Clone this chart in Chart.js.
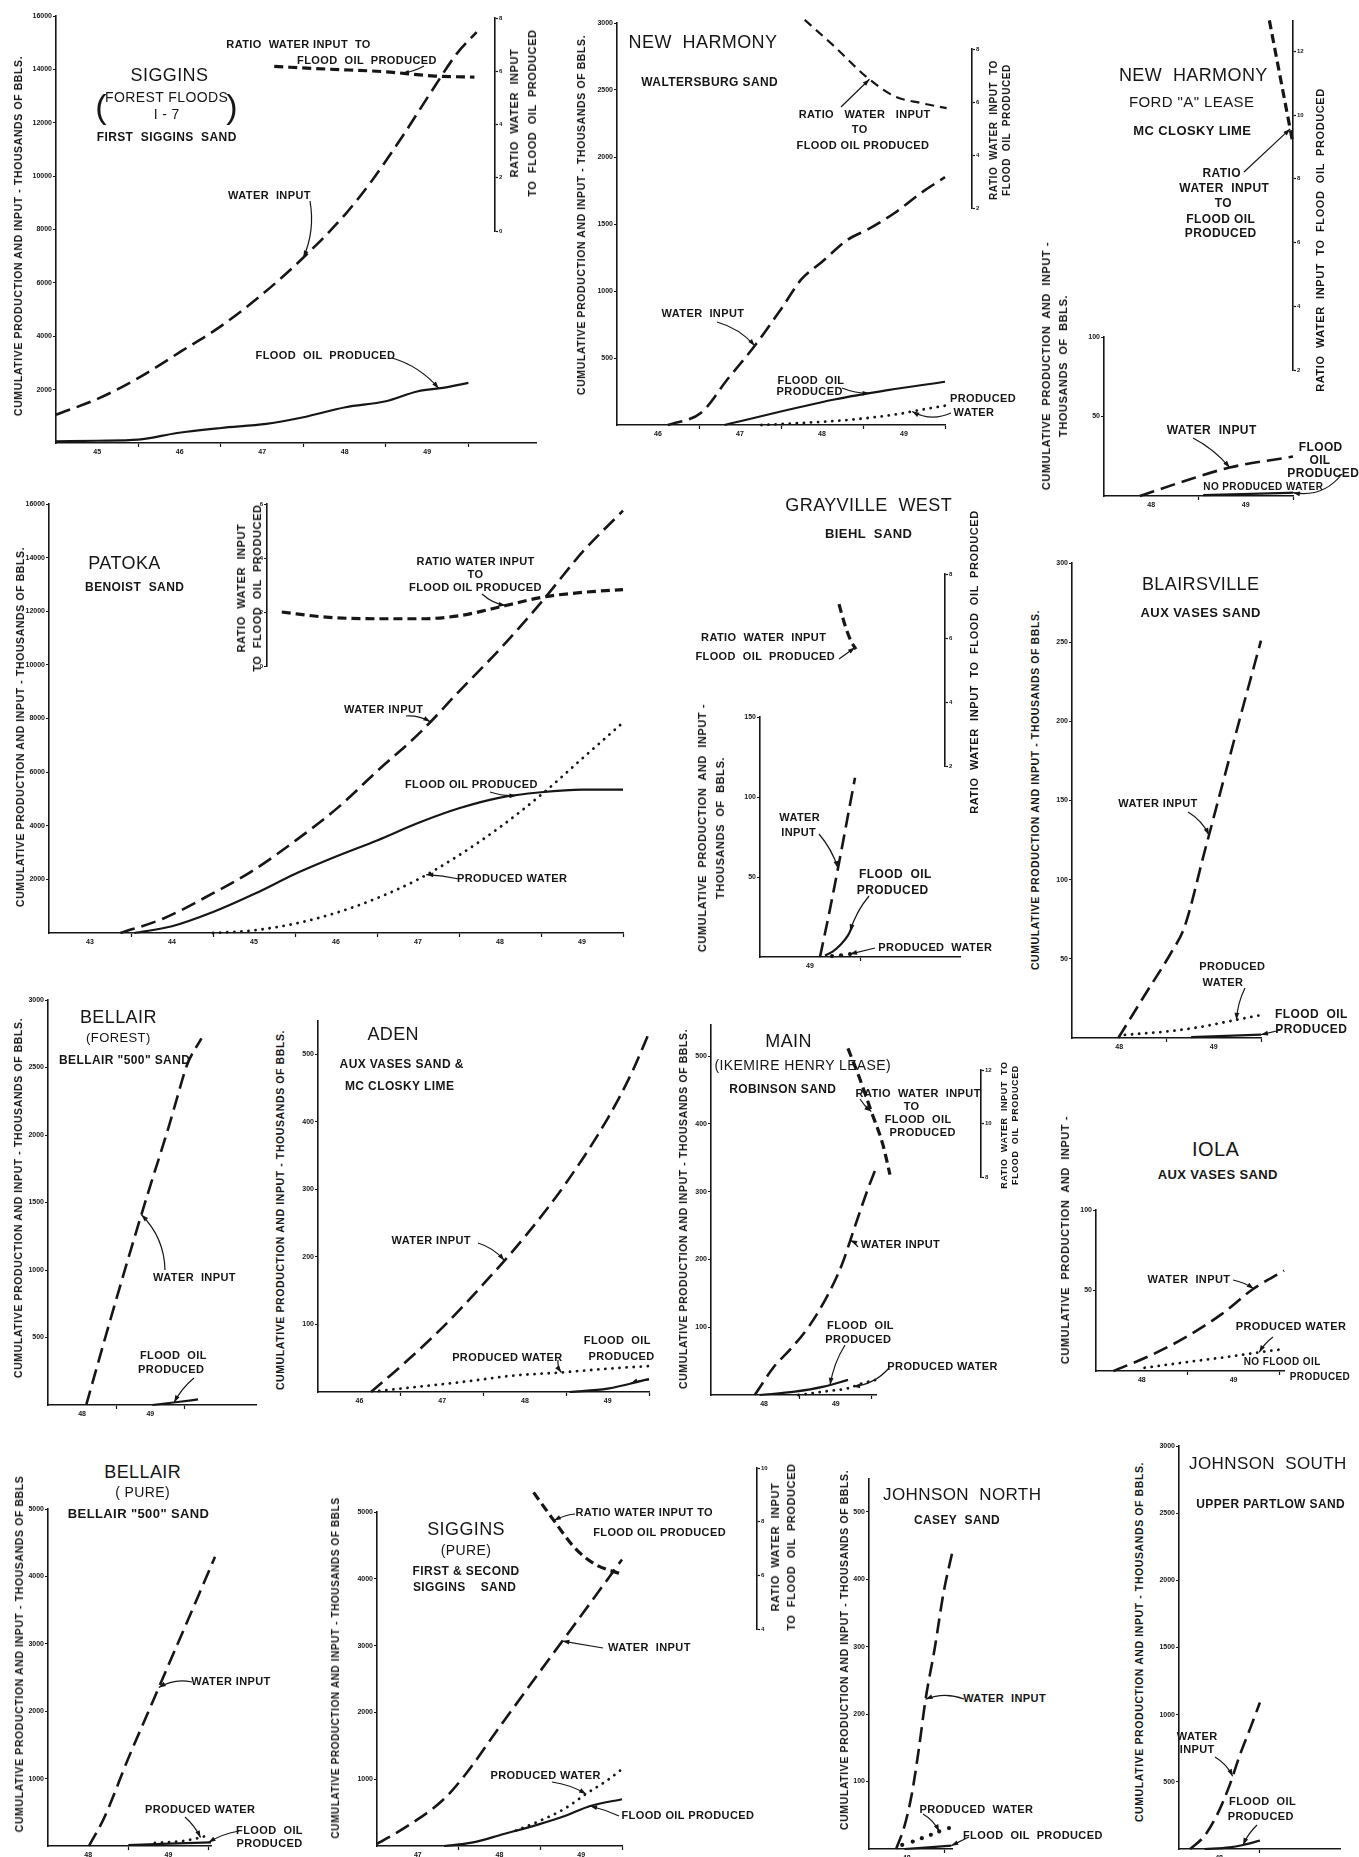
<!DOCTYPE html>
<html>
<head>
<meta charset="utf-8">
<title>Cumulative production and input - waterflood projects</title>
<script src="https://cdn.jsdelivr.net/npm/chart.js@4.4.1/dist/chart.umd.min.js"></script>
<style>
  html, body { margin: 0; background: #fff; overflow: hidden; }
  #page { position: relative; width: 1359px; height: 1857px; background: #fff;
          font-family: "Liberation Sans", Arial, sans-serif; color: #161616; }
  #page canvas { position: absolute; }
  .t { position: absolute; transform: translate(-50%, -50%); white-space: pre; text-align: center;
       line-height: 1.2; letter-spacing: 0.4px; }
  .v { position: absolute; transform: translate(-50%, -50%) rotate(-90deg); white-space: pre;
       text-align: center; font-weight: bold; letter-spacing: 0.6px; }
</style>
</head>
<body>
<div id="page"></div>
<script>
const FONT = '"Liberation Sans", Arial, sans-serif';
const INK = '#161616';
Chart.defaults.font.family = FONT;
Chart.defaults.color = INK;

// ---------- data: x = year (45 = start of 1945), y = thousands of bbls ----------

// Siggins (Forest Floods) 1-7
const sigYears = ['45', '46', '47', '48', '49'];
const sigTicks = [2000, 4000, 6000, 8000, 10000, 12000, 14000, 16000];
const sigRatioTicks = [0, 2, 4, 6, 8];
const sigWaterYr = [45.0, 45.53, 46.0, 46.52, 47.0, 47.5, 48.0, 48.51, 48.83, 49.22, 49.56, 49.86, 50.1];
const sigWater = [1060, 1690, 2440, 3440, 4380, 5570, 6950, 8580, 9830, 11580, 13210, 14590, 15400];
const sigOilYr = [45.0, 45.5, 46.0, 46.47, 47.0, 47.55, 48.0, 48.51, 49.0, 49.39, 49.69, 50.0];
const sigOil = [60, 85, 125, 376, 563, 714, 964, 1340, 1565, 1941, 2066, 2254];
const sigRatioYr = [47.65, 48.3, 49.0, 49.6, 50.08];
const sigRatio = [6.18, 6.08, 5.98, 5.82, 5.78];

// New Harmony - Waltersburg sand
const nhYears = ['46', '47', '48', '49'];
const nhTicks = [500, 1000, 1500, 2000, 2500, 3000];
const nhRatioTicks = [2, 4, 6, 8];
const nhWaterYr = [46.62, 47.03, 47.35, 47.68, 48.0, 48.25, 48.49, 48.82, 49.06, 49.39, 49.71, 50.0];
const nhWater = [0, 94, 343, 591, 864, 1088, 1212, 1385, 1460, 1584, 1733, 1850];
const nhOilYr = [47.31, 48.65, 49.3, 50.0];
const nhOil = [0, 190, 260, 323];
const nhProdYr = [47.76, 48.25, 48.86, 49.43, 49.71, 50.0];
const nhProd = [0, 15, 40, 82, 114, 144];
const nhRatioYr = [48.29, 48.65, 49.06, 49.39, 49.71, 50.02];
const nhRatio = [9.1, 8.1, 6.9, 6.21, 5.96, 5.77];

// New Harmony - Ford "A" lease
const nhfYears = ['48', '49'];
const nhfTicks = [50, 100];
const nhfRatioTicks = [2, 4, 6, 8, 10, 12];
const nhfWaterYr = [48.38, 48.8, 49.33, 50.0];
const nhfWater = [0, 8.4, 17.9, 24.8];
const nhfOilYr = [49.05, 50.0];
const nhfOil = [0.6, 2.1];
const nhfRatioYr = [49.75, 49.89, 50.0];
const nhfRatio = [12.97, 10.8, 9.1];

// Patoka - Benoist sand
const patYears = ['43', '44', '45', '46', '47', '48', '49'];
const patTicks = [2000, 4000, 6000, 8000, 10000, 12000, 14000, 16000];
const patRatioTicks = [0, 2, 4, 6];
const patWaterYr = [43.87, 44.39, 44.99, 45.49, 46.01, 46.53, 47.01, 47.53, 48.01, 48.52, 49.02, 49.52, 50.0];
const patWater = [0, 534, 1466, 2335, 3453, 4695, 6061, 7490, 9043, 10657, 12396, 14259, 15750];
const patOilYr = [44.04, 44.5, 45.0, 45.5, 46.0, 46.5, 47.0, 47.5, 48.0, 48.5, 49.0, 49.5, 50.0];
const patOil = [0, 250, 780, 1450, 2200, 2850, 3450, 4100, 4650, 5050, 5250, 5350, 5350];
const patProdYr = [45.0, 45.5, 46.0, 46.5, 47.0, 47.5, 48.0, 48.5, 49.0, 49.5, 50.0];
const patProd = [0, 100, 350, 750, 1300, 2000, 2900, 3950, 5150, 6500, 7850];
const patRatioYr = [45.84, 46.38, 47.03, 47.53, 48.02, 48.57, 49.02, 49.52, 50.0];
const patRatio = [2.0, 1.81, 1.75, 1.75, 1.87, 2.24, 2.55, 2.73, 2.83];

// Grayville West - Biehl sand
const gwYears = ['49'];
const gwTicks = [50, 100, 150];
const gwRatioTicks = [2, 4, 6, 8];
const gwWaterYr = [49.6, 49.7, 49.8, 49.95];
const gwWater = [0, 30, 62, 112];
const gwOilYr = [49.65, 49.73, 49.8, 49.88, 49.93];
const gwOil = [1, 3.5, 7.3, 13.5, 20];
const gwProdYr = [49.72, 49.81, 49.9];
const gwProd = [0.6, 1.1, 1.8];
const gwRatioYr = [49.79, 49.85, 49.91, 49.96];
const gwRatio = [7.06, 6.4, 5.9, 5.65];

// Blairsville - Aux Vases sand
const blYears = ['48', '49'];
const blTicks = [50, 100, 150, 200, 250, 300];
const blWaterYr = [48.49, 48.8, 49.05, 49.19, 49.4, 49.6, 49.8, 50.0];
const blWater = [0, 30, 54, 70, 117, 162, 207, 251];
const blProdYr = [48.56, 49.01, 49.33, 49.61, 49.75, 50.0];
const blProd = [2, 4.2, 6.7, 9.9, 11.6, 14.5];
const blOilYr = [49.26, 50.0];
const blOil = [0.6, 2.1];

// Bellair (Forest) - Bellair "500" sand
const bfYears = ['48', '49'];
const bfTicks = [500, 1000, 1500, 2000, 2500, 3000];
const bfWaterYr = [48.56, 48.84, 49.15, 49.46, 49.77, 49.89, 50.04, 50.25];
const bfWater = [0, 500, 1040, 1560, 2060, 2270, 2520, 2716];
const bfOilYr = [49.53, 49.9, 50.2];
const bfOil = [0, 22, 41];

// Aden - Aux Vases sand & McClosky lime
const adYears = ['46', '47', '48', '49'];
const adTicks = [100, 200, 300, 400, 500];
const adWaterYr = [46.64, 47.0, 47.5, 48.0, 48.5, 49.0, 49.5, 49.8, 50.0];
const adWater = [0, 38, 95, 160, 230, 310, 405, 475, 532];
const adProdYr = [46.74, 47.3, 47.82, 48.33, 48.94, 49.45, 50.0];
const adProd = [1.5, 9, 16, 24, 29, 34, 38.5];
const adOilYr = [49.04, 49.5, 50.0];
const adOil = [0, 5, 19];

// Main (Ikemire Henry lease) - Robinson sand
const mnYears = ['48', '49'];
const mnTicks = [100, 200, 300, 400, 500];
const mnRatioTicks = [8, 10, 12];
const mnWaterYr = [48.37, 48.64, 48.88, 49.13, 49.38, 49.58, 49.77, 49.95, 50.06];
const mnWater = [0, 42, 69, 102, 146, 191, 250, 305, 335];
const mnOilYr = [48.44, 48.93, 49.33, 49.67];
const mnOil = [0, 5, 12.4, 22.3];
const mnProdYr = [48.98, 49.33, 49.67, 49.87, 50.06];
const mnProd = [0, 5, 10, 17.3, 22.3];
const mnRatioYr = [49.52, 49.67, 49.82, 49.97, 50.06];
const mnRatio = [12.81, 11.69, 10.45, 9.2, 8.09];

// Iola - Aux Vases sand
const ioYears = ['48', '49'];
const ioTicks = [50, 100];
const ioWaterYr = [48.19, 48.58, 48.97, 49.37, 49.71, 50.05];
const ioWater = [0, 9.3, 20.7, 35.3, 50.8, 62.3];
const ioProdYr = [48.53, 49.0, 49.5, 49.75, 50.03];
const ioProd = [2, 5.6, 9.3, 11.4, 13.5];

// Bellair (Pure) - Bellair "500" sand
const bpYears = ['48', '49'];
const bpTicks = [1000, 2000, 3000, 4000, 5000];
const bpWaterYr = [48.51, 48.7, 49.0, 49.3, 49.6, 49.85, 50.08];
const bpWater = [0, 420, 1300, 2130, 2960, 3650, 4290];
const bpProdYr = [49.33, 49.53, 49.66, 49.78, 49.9, 50.02];
const bpProd = [45, 60, 70, 95, 125, 174];
const bpOilYr = [49.0, 50.03];
const bpOil = [15, 55];

// Siggins (Pure) - First & Second Siggins sand
const spYears = ['47', '48', '49'];
const spTicks = [1000, 2000, 3000, 4000, 5000];
const spRatioTicks = [4, 6, 8, 10];
const spWaterYr = [47.0, 47.4, 47.8, 48.05, 48.5, 49.0, 49.5, 50.0];
const spWater = [30, 320, 680, 1020, 1780, 2620, 3450, 4290];
const spOilYr = [47.82, 48.16, 48.54, 48.98, 49.3, 49.61, 50.0];
const spOil = [0, 50, 175, 324, 449, 599, 700];
const spProdYr = [48.7, 49.0, 49.3, 49.56, 49.81, 50.0];
const spProd = [230, 380, 560, 780, 975, 1150];
const spRatioYr = [48.92, 49.17, 49.42, 49.67, 49.99];
const spRatio = [9.09, 8.04, 7.04, 6.42, 6.05];

// Johnson North - Casey sand
const jnYears = ['48'];
const jnTicks = [100, 200, 300, 400, 500];
const jnWaterYr = [48.36, 48.47, 48.57, 48.66, 48.75, 48.87, 48.99, 49.11];
const jnWater = [0, 34, 83, 148, 222, 297, 381, 443];
const jnProdYr = [48.44, 48.58, 48.7, 48.82, 48.93, 49.06];
const jnProd = [6, 11, 16, 21, 26, 31];
const jnOilYr = [48.47, 49.09];
const jnOil = [0, 5];

// Johnson South - Upper Partlow sand
const jsYears = ['48'];
const jsTicks = [500, 1000, 1500, 2000, 2500, 3000];
const jsWaterYr = [48.14, 48.32, 48.47, 48.63, 48.76, 48.89, 49.01];
const jsWater = [0, 99, 248, 472, 700, 900, 1090];
const jsOilYr = [48.32, 48.63, 48.8, 49.01];
const jsOil = [0, 12, 30, 62];

// ---------- helpers ----------
const page = document.getElementById('page');
const YW = 28, XH = 16, PT = 10, PR = 10;   // main axis boxes / padding
const RW = 16, PAD = 40;                    // ratio axis box / free margin
const TICKF = { family: FONT, size: 7, weight: 'bold' };

const STY = {
  water: { borderDash: [15, 7], borderWidth: 2.6 },
  ratio: { borderDash: [9, 5], borderWidth: 3.2 },
  ratioThin: { borderDash: [9, 6], borderWidth: 2.2 },
  oil: { borderWidth: 2.2 },
  prod: { borderDash: [0.1, 7], borderWidth: 2.8, borderCapStyle: 'round' },
  dots: { showLine: false, pointRadius: 2.1 }
};

function ds(kind, xs, ys) {
  return Object.assign({
    data: xs.map((x, i) => ({ x: x, y: ys[i] })),
    borderColor: INK, backgroundColor: INK, pointRadius: 0, pointBorderWidth: 0,
    fill: false, cubicInterpolationMode: 'monotone', clip: false
  }, STY[kind]);
}

function addCanvas(l, t, w, h) {
  const c = document.createElement('canvas');
  c.width = w; c.height = h;
  c.style.left = l + 'px'; c.style.top = t + 'px';
  c.style.width = w + 'px'; c.style.height = h + 'px';
  page.appendChild(c);
  return c;
}

function panel(box, xr, years, yr, yTicks, series) {
  const [l, t, r, b] = box;
  const cv = addCanvas(Math.round(l - YW), Math.round(t - PT),
                       Math.round(r - l + YW + PR), Math.round(b - t + PT + XH));
  const labelAt = new Map(years.map(y => [Number(y) + 0.5, y]));
  const marks = years.map(y => Number(y) + 1).filter(v => v <= xr[1] + 1e-6);
  const xt = [...labelAt.keys(), ...marks].sort((a, c) => a - c);
  return new Chart(cv, {
    type: 'line',
    data: { datasets: series },
    options: {
      responsive: false, maintainAspectRatio: false, animation: false, events: [],
      layout: { padding: { top: PT, right: PR, left: 0, bottom: 0 } },
      plugins: { legend: { display: false }, tooltip: { enabled: false } },
      scales: {
        x: {
          type: 'linear', min: xr[0], max: xr[1],
          afterBuildTicks: s => { s.ticks = xt.map(v => ({ value: v })); },
          afterFit: s => { s.height = XH; },
          ticks: { autoSkip: false, maxRotation: 0, padding: 1, font: TICKF, color: INK,
                   callback: v => labelAt.get(v) || '' },
          grid: { drawOnChartArea: false, tickLength: 4, tickWidth: 1.2,
                  tickColor: c => labelAt.has(c.tick.value) ? 'rgba(0,0,0,0)' : INK },
          border: { color: INK, width: 1.6 }
        },
        y: {
          min: yr[0], max: yr[1],
          afterBuildTicks: s => { s.ticks = yTicks.map(v => ({ value: v })); },
          afterFit: s => { s.width = YW; },
          ticks: { padding: 1, font: TICKF, color: INK, callback: v => String(v) },
          grid: { drawOnChartArea: false, tickLength: 3, tickWidth: 1.2, tickColor: INK },
          border: { color: INK, width: 1.6 }
        }
      }
    }
  });
}

function ratioPanel(box, xr, yr, yTicks, side, series) {
  const [l, t, r, b] = box;
  const left = side === 'left';
  const cv = addCanvas(Math.round(l - (left ? RW : PAD)), Math.round(t - PAD),
                       Math.round(r - l + RW + PAD), Math.round(b - t + 2 * PAD));
  return new Chart(cv, {
    type: 'line',
    data: { datasets: series },
    options: {
      responsive: false, maintainAspectRatio: false, animation: false, events: [],
      layout: { padding: { left: left ? 0 : PAD, right: left ? PAD : 0, top: PAD, bottom: PAD } },
      plugins: { legend: { display: false }, tooltip: { enabled: false } },
      scales: {
        x: { type: 'linear', display: false, min: xr[0], max: xr[1] },
        y: {
          position: side, min: yr[0], max: yr[1],
          afterBuildTicks: s => { s.ticks = yTicks.map(v => ({ value: v })); },
          afterFit: s => { s.width = RW; },
          ticks: { padding: 1, font: { family: FONT, size: 6, weight: 'bold' }, color: INK },
          grid: { drawOnChartArea: false, tickLength: 3, tickWidth: 1.2, tickColor: INK },
          border: { color: INK, width: 1.6 }
        }
      }
    }
  });
}

function note(text, x, y, size, weight) {
  const d = document.createElement('div');
  d.className = 't';
  d.textContent = text;
  d.style.left = x + 'px'; d.style.top = y + 'px';
  d.style.fontSize = (size || 11) + 'px';
  d.style.fontWeight = weight || 'bold';
  page.appendChild(d);
}

function vnote(text, x, y, size, lh) {
  const d = document.createElement('div');
  d.className = 'v';
  d.textContent = text;
  d.style.left = x + 'px'; d.style.top = y + 'px';
  d.style.fontSize = (size || 10.5) + 'px';
  d.style.lineHeight = (lh || 14) + 'px';
  page.appendChild(d);
}

const leaders = [];
function lead(chart, xs, ys, at, fx, fy, bend) {
  leaders.push({ chart, xs, ys, at, fx, fy, bend: bend || 0 });
}
function interp(xs, ys, x) {
  if (x <= xs[0]) return ys[0];
  for (let i = 1; i < xs.length; i++) {
    if (x <= xs[i]) {
      const f = (x - xs[i - 1]) / (xs[i] - xs[i - 1]);
      return ys[i - 1] + f * (ys[i] - ys[i - 1]);
    }
  }
  return ys[ys.length - 1];
}
function drawLeaders() {
  const cv = addCanvas(0, 0, 1359, 1857);
  const g = cv.getContext('2d');
  g.strokeStyle = INK; g.fillStyle = INK; g.lineWidth = 1.2;
  leaders.forEach(a => {
    const c = a.chart;
    const px = c.canvas.offsetLeft + c.scales.x.getPixelForValue(a.at);
    const py = c.canvas.offsetTop + c.scales.y.getPixelForValue(interp(a.xs, a.ys, a.at));
    const dx = px - a.fx, dy = py - a.fy;
    const cx = (a.fx + px) / 2 - dy * a.bend, cy = (a.fy + py) / 2 + dx * a.bend;
    g.beginPath(); g.moveTo(a.fx, a.fy); g.quadraticCurveTo(cx, cy, px, py); g.stroke();
    const ang = Math.atan2(py - cy, px - cx), L = 7, W = 2.4;
    g.beginPath(); g.moveTo(px, py);
    g.lineTo(px - L * Math.cos(ang) + W * Math.sin(ang), py - L * Math.sin(ang) - W * Math.cos(ang));
    g.lineTo(px - L * Math.cos(ang) - W * Math.sin(ang), py - L * Math.sin(ang) + W * Math.cos(ang));
    g.closePath(); g.fill();
  });
}

const YT = 'CUMULATIVE PRODUCTION AND INPUT - THOUSANDS OF BBLS.';

// ---------- Siggins (Forest Floods) ----------
const sig = panel([55.7, 15.7, 535.5, 443], [45, 50.82], sigYears, [0, 16000], sigTicks,
  [ds('water', sigWaterYr, sigWater), ds('oil', sigOilYr, sigOil)]);
const sigR = ratioPanel([55.7, 18.3, 494.7, 231], [45, 50.33], [0, 8], sigRatioTicks, 'right',
  [ds('ratio', sigRatioYr, sigRatio)]);
note('SIGGINS', 169.5, 76, 18, 'normal');
note('FOREST FLOODS', 166.7, 97.3, 14, 'normal');
note('I - 7', 166.7, 114, 14, 'normal');
note('(', 101, 106, 34, 'normal');
note(')', 232, 106, 34, 'normal');
note('FIRST  SIGGINS  SAND', 166.7, 137, 12);
note('RATIO  WATER INPUT  TO', 298.6, 45, 11);
note('FLOOD  OIL  PRODUCED', 367, 61, 11);
note('WATER  INPUT', 269.5, 196, 11);
note('FLOOD  OIL  PRODUCED', 325.5, 356, 11);
vnote(YT, 17.7, 236);
vnote('RATIO  WATER  INPUT\nTO  FLOOD  OIL  PRODUCED', 523, 113, 11, 18);
lead(sig, sigWaterYr, sigWater, 48.0, 310, 201, -0.15);
lead(sig, sigOilYr, sigOil, 49.64, 392, 358, -0.15);
lead(sigR, sigRatioYr, sigRatio, 49.2, 424, 66, -0.1);

// ---------- New Harmony (Waltersburg) ----------
const nh = panel([617, 23.3, 945, 425.3], [46, 50], nhYears, [0, 3000], nhTicks,
  [ds('water', nhWaterYr, nhWater), ds('oil', nhOilYr, nhOil), ds('prod', nhProdYr, nhProd)]);
const nhR = ratioPanel([617, 49.3, 972.3, 208.3], [46, 50.33], [2, 8], nhRatioTicks, 'right',
  [ds('ratioThin', nhRatioYr, nhRatio)]);
note('NEW  HARMONY', 703, 43.3, 18, 'normal');
note('WALTERSBURG SAND', 709.7, 82.3, 12);
note('RATIO   WATER   INPUT', 864.7, 115, 11);
note('TO', 859.7, 130, 11);
note('FLOOD OIL PRODUCED', 863, 145.7, 11);
note('WATER  INPUT', 703, 314.3, 11);
note('FLOOD  OIL', 811, 380.7, 11);
note('PRODUCED', 809.7, 392.3, 11);
note('PRODUCED', 983, 399, 11);
note('WATER', 974, 413.3, 11);
vnote(YT, 581.3, 215);
vnote('RATIO  WATER  INPUT  TO\nFLOOD  OIL  PRODUCED', 1000, 130, 10, 13);
lead(nhR, nhRatioYr, nhRatio, 49.08, 841, 107, 0);
lead(nh, nhWaterYr, nhWater, 47.68, 717, 322, -0.15);
lead(nh, nhOilYr, nhOil, 49.08, 842, 388, 0.1);
lead(nh, nhProdYr, nhProd, 49.6, 951, 413, -0.25);

// ---------- New Harmony (Ford "A" lease) ----------
const nhf = panel([1104, 337.3, 1293.3, 496], [48, 50], nhfYears, [0, 100], nhfTicks,
  [ds('water', nhfWaterYr, nhfWater), ds('oil', nhfOilYr, nhfOil)]);
const nhfR = ratioPanel([1104, 20.7, 1293.3, 370], [48, 50], [2, 12.95], nhfRatioTicks, 'right',
  [ds('ratio', nhfRatioYr, nhfRatio)]);
note('NEW  HARMONY', 1193.3, 76, 18, 'normal');
note('FORD "A" LEASE', 1191.7, 101.7, 15, 'normal');
note('MC CLOSKY LIME', 1192.3, 130.7, 13);
note('RATIO', 1221.7, 172.7, 12);
note('WATER  INPUT', 1224.3, 188.3, 12);
note('TO', 1223.3, 203.3, 12);
note('FLOOD OIL', 1220.7, 219, 12);
note('PRODUCED', 1220.7, 232.7, 12);
note('WATER  INPUT', 1211.7, 430, 12);
note('FLOOD', 1320.7, 446.7, 12);
note('OIL', 1320, 460, 12);
note('PRODUCED', 1323.3, 473.3, 12);
note('NO PRODUCED WATER', 1263.3, 487.3, 10);
vnote('CUMULATIVE  PRODUCTION  AND  INPUT -\nTHOUSANDS  OF  BBLS.', 1055, 366, 11, 17);
vnote('RATIO  WATER  INPUT  TO  FLOOD  OIL  PRODUCED', 1320, 240, 11);
lead(nhfR, nhfRatioYr, nhfRatio, 49.97, 1244, 172, 0);
lead(nhf, nhfWaterYr, nhfWater, 49.33, 1193, 438, -0.1);
lead(nhf, nhfOilYr, nhfOil, 50.0, 1342, 474, -0.3);

// ---------- Patoka ----------
const pat = panel([49, 504.3, 623.3, 933.7], [43, 50], patYears, [0, 16000], patTicks,
  [ds('water', patWaterYr, patWater), ds('oil', patOilYr, patOil), ds('prod', patProdYr, patProd)]);
const patR = ratioPanel([267.3, 504.3, 623.3, 666.7], [45.66, 50], [0, 6], patRatioTicks, 'left',
  [ds('ratio', patRatioYr, patRatio)]);
note('PATOKA', 124.5, 564.3, 18, 'normal');
note('BENOIST  SAND', 134.7, 586.7, 12);
note('RATIO WATER INPUT', 475.5, 562, 11);
note('TO', 475.5, 575, 11);
note('FLOOD OIL PRODUCED', 475.5, 588.3, 11);
note('WATER INPUT', 383.7, 710, 11);
note('FLOOD OIL PRODUCED', 471.4, 785, 11);
note('PRODUCED WATER', 512.2, 879.3, 11);
vnote(YT, 20.4, 727);
vnote('RATIO  WATER  INPUT\nTO  FLOOD  OIL  PRODUCED', 249, 588, 11, 16);
lead(patR, patRatioYr, patRatio, 48.57, 482, 594, 0.15);
lead(pat, patWaterYr, patWater, 47.65, 406, 716, -0.15);
lead(pat, patOilYr, patOil, 48.7, 490, 792, 0.1);
lead(pat, patProdYr, patProd, 47.6, 459, 879, 0.05);

// ---------- Grayville West ----------
const gw = panel([760.3, 717, 960.3, 956.5], [49, 51], gwYears, [0, 150], gwTicks,
  [ds('water', gwWaterYr, gwWater), ds('oil', gwOilYr, gwOil), ds('dots', gwProdYr, gwProd)]);
const gwR = ratioPanel([760.3, 574.3, 945.3, 766], [49, 50.85], [2, 8], gwRatioTicks, 'right',
  [ds('ratio', gwRatioYr, gwRatio)]);
note('GRAYVILLE  WEST', 868.7, 506, 18, 'normal');
note('BIEHL  SAND', 868.7, 533.7, 13);
note('RATIO  WATER  INPUT', 763.7, 637.7, 11);
note('FLOOD  OIL  PRODUCED', 765.3, 656.7, 11);
note('WATER', 799.7, 817.7, 11);
note('INPUT', 798.7, 832.7, 11);
note('FLOOD  OIL', 895.3, 874.3, 12);
note('PRODUCED', 892.7, 890.3, 12);
note('PRODUCED  WATER', 935.3, 947.7, 11);
vnote('CUMULATIVE  PRODUCTION  AND  INPUT -\nTHOUSANDS  OF  BBLS.', 711, 828, 11, 18);
vnote('RATIO  WATER  INPUT  TO  FLOOD  OIL  PRODUCED', 973.7, 661.7, 11);
lead(gwR, gwRatioYr, gwRatio, 49.95, 839, 659, 0);
lead(gw, gwWaterYr, gwWater, 49.78, 819, 834, -0.1);
lead(gw, gwOilYr, gwOil, 49.9, 869, 896, 0.1);
lead(gw, gwProdYr, gwProd, 49.9, 875, 948, 0);

// ---------- Blairsville ----------
const bl = panel([1072, 563.3, 1261.3, 1038.5], [48, 50], blYears, [0, 300], blTicks,
  [ds('water', blWaterYr, blWater), ds('prod', blProdYr, blProd), ds('oil', blOilYr, blOil)]);
note('BLAIRSVILLE', 1200.7, 585, 18, 'normal');
note('AUX VASES SAND', 1200.7, 613.3, 13);
note('WATER INPUT', 1158, 804.3, 11);
note('PRODUCED', 1232.3, 966.7, 11);
note('WATER', 1223, 982.7, 11);
note('FLOOD  OIL', 1311.3, 1014, 12);
note('PRODUCED', 1311.3, 1029, 12);
vnote(YT, 1034.7, 790);
lead(bl, blWaterYr, blWater, 49.45, 1188, 812, -0.15);
lead(bl, blProdYr, blProd, 49.74, 1245, 988, 0.1);
lead(bl, blOilYr, blOil, 50.0, 1281, 1030, 0);

// ---------- Bellair (Forest) ----------
const bf = panel([48.3, 999.7, 256.7, 1404.8], [48, 51.05], bfYears, [0, 3000], bfTicks,
  [ds('water', bfWaterYr, bfWater), ds('oil', bfOilYr, bfOil)]);
note('BELLAIR', 118.4, 1018, 18, 'normal');
note('(FOREST)', 118.4, 1038, 13, 'normal');
note('BELLAIR "500" SAND', 124.7, 1059.7, 12);
note('WATER  INPUT', 194.5, 1278, 11);
note('FLOOD  OIL', 173.4, 1356.3, 11);
note('PRODUCED', 171.2, 1369.7, 11);
vnote(YT, 18, 1198);
lead(bf, bfWaterYr, bfWater, 49.37, 165, 1270, 0.2);
lead(bf, bfOilYr, bfOil, 49.85, 194, 1378, 0.1);

// ---------- Aden ----------
const ad = panel([318, 1021.3, 648.7, 1392.2], [46, 50], adYears, [0, 549.5], adTicks,
  [ds('water', adWaterYr, adWater), ds('prod', adProdYr, adProd), ds('oil', adOilYr, adOil)]);
note('ADEN', 393.2, 1034.7, 18, 'normal');
note('AUX VASES SAND &', 401.7, 1064, 12);
note('MC CLOSKY LIME', 399.6, 1086.3, 12);
note('WATER INPUT', 431.3, 1241.3, 11);
note('PRODUCED WATER', 507.4, 1358, 11);
note('FLOOD  OIL', 617.3, 1341.3, 11);
note('PRODUCED', 621.6, 1357.3, 11);
vnote(YT, 280, 1209.7);
lead(ad, adWaterYr, adWater, 48.25, 478, 1243, -0.15);
lead(ad, adProdYr, adProd, 48.94, 558, 1360, 0.2);
lead(ad, adOilYr, adOil, 49.78, 649, 1380, 0.1);

// ---------- Main (Ikemire Henry lease) ----------
const mn = panel([710.5, 1025.3, 875.2, 1395], [47.76, 50.06], mnYears, [0, 546], mnTicks,
  [ds('water', mnWaterYr, mnWater), ds('oil', mnOilYr, mnOil), ds('prod', mnProdYr, mnProd)]);
const mnR = ratioPanel([710.5, 1070.3, 980.4, 1177.7], [47.76, 51.23], [8, 12], mnRatioTicks, 'right',
  [ds('ratio', mnRatioYr, mnRatio)]);
note('MAIN', 788.6, 1042, 18, 'normal');
note('(IKEMIRE HENRY LEASE)', 802.8, 1065.3, 14, 'normal');
note('ROBINSON SAND', 782.8, 1088.7, 12);
note('RATIO  WATER  INPUT', 918.2, 1093.7, 11);
note('TO', 911.6, 1107, 11);
note('FLOOD  OIL', 918.2, 1120.3, 11);
note('PRODUCED', 922.7, 1132.7, 11);
note('WATER INPUT', 900.5, 1245.3, 11);
note('FLOOD  OIL', 860.5, 1326, 11);
note('PRODUCED', 858.3, 1340.3, 11);
note('PRODUCED WATER', 942.6, 1367, 11);
vnote(YT, 683, 1209.3);
vnote('RATIO  WATER  INPUT  TO\nFLOOD  OIL  PRODUCED', 1010, 1125, 9, 11);
lead(mnR, mnRatioYr, mnRatio, 49.82, 860, 1099, 0.1);
lead(mn, mnWaterYr, mnWater, 49.7, 858, 1247, 0.15);
lead(mn, mnOilYr, mnOil, 49.42, 845, 1345, 0.1);
lead(mn, mnProdYr, mnProd, 49.74, 889, 1368, -0.2);

// ---------- Iola ----------
const io = panel([1095.8, 1209.7, 1283.5, 1370.9], [48, 50.05], ioYears, [0, 100], ioTicks,
  [ds('water', ioWaterYr, ioWater), ds('prod', ioProdYr, ioProd)]);
note('IOLA', 1215.6, 1148.7, 20, 'normal');
note('AUX VASES SAND', 1217.8, 1175.3, 13);
note('WATER  INPUT', 1189, 1280.3, 11);
note('PRODUCED WATER', 1291, 1327, 11);
note('NO FLOOD OIL', 1282.2, 1362, 10);
note('PRODUCED', 1320, 1377, 10);
vnote('CUMULATIVE  PRODUCTION  AND  INPUT -', 1064.7, 1240, 11);
lead(io, ioWaterYr, ioWater, 49.72, 1233, 1280, -0.1);
lead(io, ioProdYr, ioProd, 49.78, 1273, 1337, 0.1);

// ---------- Bellair (Pure) ----------
const bp = panel([48.3, 1509, 211.7, 1845.7], [48, 50.03], bpYears, [0, 5000], bpTicks,
  [ds('water', bpWaterYr, bpWater), ds('prod', bpProdYr, bpProd), ds('oil', bpOilYr, bpOil)]);
note('BELLAIR', 142.7, 1473.3, 18, 'normal');
note('( PURE)', 142.7, 1491.7, 14, 'normal');
note('BELLAIR "500" SAND', 138.6, 1514, 13);
note('WATER INPUT', 231, 1682.3, 11);
note('PRODUCED WATER', 200.2, 1810, 11);
note('FLOOD  OIL', 269.5, 1830.7, 11);
note('PRODUCED', 269.5, 1844, 11);
vnote('CUMULATIVE PRODUCTION AND INPUT - THOUSANDS OF BBLS', 18.5, 1654, 10.5);
lead(bp, bpWaterYr, bpWater, 49.38, 192, 1682, 0.2);
lead(bp, bpProdYr, bpProd, 49.9, 185, 1817, -0.1);
lead(bp, bpOilYr, bpOil, 50.0, 239, 1831, 0.1);

// ---------- Siggins (Pure) ----------
const sp = panel([377.3, 1511.7, 622.2, 1845.7], [47, 50], spYears, [0, 5000], spTicks,
  [ds('water', spWaterYr, spWater), ds('prod', spProdYr, spProd), ds('oil', spOilYr, spOil)]);
const spR = ratioPanel([377.3, 1468, 757.2, 1629], [47, 51.66], [4, 10], spRatioTicks, 'right',
  [ds('ratio', spRatioYr, spRatio)]);
note('SIGGINS', 466.1, 1530, 18, 'normal');
note('(PURE)', 466.1, 1550, 14, 'normal');
note('FIRST & SECOND', 466.1, 1571.3, 12);
note('SIGGINS    SAND', 464.6, 1587.3, 12);
note('RATIO WATER INPUT TO', 644.3, 1513, 11);
note('FLOOD OIL PRODUCED', 659.6, 1533, 11);
note('WATER  INPUT', 649.4, 1648, 11);
note('PRODUCED WATER', 545.7, 1775.7, 11);
note('FLOOD OIL PRODUCED', 687.9, 1816.3, 11);
vnote('CUMULATIVE PRODUCTION AND INPUT - THOUSANDS OF BBLS', 336.2, 1668, 10);
vnote('RATIO  WATER  INPUT\nTO  FLOOD  OIL  PRODUCED', 783, 1547, 11, 16);
lead(spR, spRatioYr, spRatio, 49.17, 575, 1514, 0.1);
lead(sp, spWaterYr, spWater, 49.27, 603, 1648, 0);
lead(sp, spProdYr, spProd, 49.56, 552, 1782, -0.1);
lead(sp, spOilYr, spOil, 49.61, 619, 1816, 0.05);

// ---------- Johnson North ----------
const jn = panel([868.6, 1478.7, 951.6, 1849], [48, 49.1], jnYears, [0, 548.6], jnTicks,
  [ds('water', jnWaterYr, jnWater), ds('dots', jnProdYr, jnProd), ds('oil', jnOilYr, jnOil)]);
note('JOHNSON  NORTH', 962.2, 1494.7, 17, 'normal');
note('CASEY  SAND', 957, 1520.3, 12);
note('WATER  INPUT', 1004.6, 1698.7, 11);
note('PRODUCED  WATER', 976.4, 1809.7, 11);
note('FLOOD  OIL  PRODUCED', 1032.9, 1836.3, 11);
vnote(YT, 843.9, 1650);
lead(jn, jnWaterYr, jnWater, 48.75, 964, 1699, 0.2);
lead(jn, jnProdYr, jnProd, 48.93, 923, 1814, -0.15);
lead(jn, jnOilYr, jnOil, 49.09, 969, 1837, 0);

// ---------- Johnson South ----------
const js = panel([1178.9, 1446, 1340.3, 1849.2], [48, 50.01], jsYears, [0, 3000], jsTicks,
  [ds('water', jsWaterYr, jsWater), ds('oil', jsOilYr, jsOil)]);
note('JOHNSON  SOUTH', 1267.9, 1463.7, 17, 'normal');
note('UPPER PARTLOW SAND', 1270.7, 1503.7, 12);
note('WATER', 1197.2, 1737, 11);
note('INPUT', 1197.2, 1750.3, 11);
note('FLOOD  OIL', 1262.6, 1802, 11);
note('PRODUCED', 1260.8, 1817, 11);
vnote(YT, 1138.9, 1642);
lead(js, jsWaterYr, jsWater, 48.67, 1215, 1757, -0.15);
lead(js, jsOilYr, jsOil, 48.8, 1257, 1825, 0.1);

drawLeaders();
</script>
</body>
</html>
